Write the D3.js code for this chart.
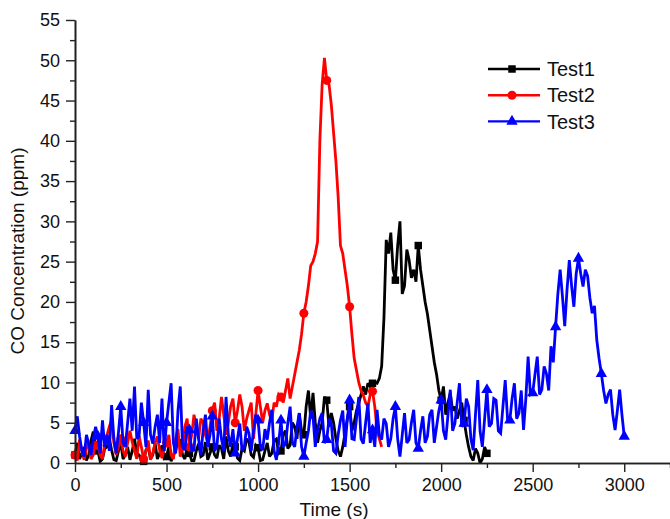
<!DOCTYPE html>
<html>
<head>
<meta charset="utf-8">
<script src="https://cdn.jsdelivr.net/npm/d3@7"></script>
<style>
  body { margin: 0; background: #fff; }
  text { font-family: "Liberation Sans", Arial, sans-serif; }
</style>
</head>
<body>
<div id="chart"></div>
<script>
// sampling step of every series (s), a marker is drawn every 10th sample (125 s)
const stepSec = 12.5;
const markerEvery = 10;

// Test1 : 0 .. 2250 s
const test1 = [1,2.5,0.5,1.2,2,0.3,1,2.8,3.9,2,
  1.5,0.2,0.5,1.8,2,3,1.6,0.4,0.3,1.5,
  2.5,0.5,1,2,0.4,1.5,3,1.2,1,0.3,
  0.2,1.6,2,0.5,1,2.5,0.5,1.2,2.2,0.6,
  0.8,2,0.2,1,1.5,3,2.8,1,0.5,2,
  1.2,0.3,0.3,1.5,2.4,0.8,1,2.6,0.4,1.2,
  2,1,0.6,2.2,1.8,0.5,3.3,1.5,0.8,2.4,
  2,0.6,0.3,1.8,1.5,3,2.6,1,0.7,2.2,
  1.9,0.3,0.4,1.5,2.5,0.8,1.2,2.8,3,1.2,
  1.5,3.5,4,1.8,2.2,5,4.5,3,6.2,4,
  3.5,7,9,5.5,8.7,5,2.5,4,5,8.2,
  7.8,4.5,6.2,5,3,1.5,0.8,2,3.7,5.5,
  7,4,5,6.5,7.4,8.5,9.5,8.5,9.9,9.5,
  9.9,10,9.9,10.5,12,18,27.7,26,28.6,24,
  22.7,27,30,21,22,26.5,25.2,23,24,22.5,
  27,24,22,20,18.5,16.5,14.5,12.5,11,9,
  7.8,9.5,6,7.5,8.7,6.5,7,5.5,6.5,7.5,
  5.3,3.5,2,0.8,0.3,1.8,1.2,0,0.5,2,
  1.2];

// Test2 : 0 .. 1675 s
const test2 = [1,0.3,2.9,1.5,0.4,1.8,2.5,0.5,1,2.7,
  2.2,1,0.5,2.5,3.5,4.5,5.3,2.5,1,2,
  3,1.5,0.8,2.5,4,2.6,1.5,0.5,3.3,2,
  0.5,1.5,2.8,0.4,1.2,2.5,3.3,1.6,0.6,1.8,
  2.5,3.5,1,0.5,3,4.2,0.8,2,4.5,5.5,
  2,3.5,6,4.5,3,5.5,5,3.5,2.5,4.5,
  6.5,7.5,4,5.5,8.2,6,3.5,5,7,8,
  5,6.5,8.5,7,4,5.5,6.5,7.5,3,6,
  9,7,5,6.5,7.4,6,5.3,7.5,7,8.5,
  8.2,7.5,9,10.5,8,9.5,11,12.5,14,16,
  18.6,20,22,24.5,25,26,27.5,40,47,50.3,
  47.5,47,44.5,41,37.5,33,27,26,24,22,
  19.4,16,13,11.5,10,9,8.4,7.5,7,8.5,
  8.9,7,4,3,2];

// Test3 : 0 .. 3000 s
const test3 = [4,5.8,3.3,1.5,0.8,3.5,2.4,1,3,4.5,
  3.3,1.2,5.3,2,3.5,1.5,7.2,3,1.2,3.8,
  7,2.5,2,5,8,4,9.5,3,3.3,7.5,
  5,2,9.1,3.5,2.4,4.5,6,2.5,8,1.5,
  5,7.5,9.9,2.5,1.2,6.5,9.5,2,1.6,4.5,
  4.1,1.5,1.6,5.5,3,1,4.1,6,2,3.5,
  5.8,1.5,2,5.5,3,1.5,8.2,3.5,2,4.2,
  1.2,3,4.9,1.5,2,4.5,3.7,1.5,4,6,
  5.3,2,1.6,4.2,2.9,5,6.6,1.5,0.4,2.5,
  5.3,2,2.4,5,7,2.5,2,4.5,6.2,2,
  0.8,2.5,4,6.5,5.8,2,4.1,5.5,6.2,2.5,
  2.9,5.5,4.9,1.5,1.2,3.5,5.3,6.5,2,5.5,
  7.8,3,2.9,5.5,8.2,3,2.4,5,7.4,2.5,
  4.1,2,6.6,3.5,2.9,5.5,4.9,2,3,5.5,
  7,3,0.8,3.5,6.2,2.5,2.9,5,6.6,2.5,
  1.8,4,5.8,2.5,3.3,6,6.6,2.5,4.5,6.5,
  7.8,4,2.9,6,9.1,4,4.9,7.5,9.9,4.5,
  4.9,8,7,3,1.6,6,10.3,4,2,5.5,
  9.1,4.5,4.9,8,7.8,4,3.7,7,10.3,5.5,
  5.3,8,9.9,5.5,6.2,9,4.1,8,13.2,8.5,
  8.7,11,13.2,8.5,9.1,12,11.1,9,14.5,12.5,
  16.9,21,24,20.7,17,21.5,25.2,22,19.4,23.5,
  25.4,23.5,21.9,24,23.2,20.5,18.6,19.5,15.3,13,
  11.1,9,7.4,8.5,9.1,6,4.1,6.5,9.1,6,
  3.3];

const seriesNames = ["Test1", "Test2", "Test3"];
const seriesColors = ["#000000", "#ff0000", "#0000ff"];

const xTicks = [0, 500, 1000, 1500, 2000, 2500, 3000];
const xMinorTicks = [250, 750, 1250, 1750, 2250, 2750, 3250];
const yTicks = [0, 5, 10, 15, 20, 25, 30, 35, 40, 45, 50, 55];
const yMinorTicks = [2.5, 7.5, 12.5, 17.5, 22.5, 27.5, 32.5, 37.5, 42.5, 47.5, 52.5];

const width = 670, height = 519;

const svg = d3.select("#chart").append("svg")
  .attr("width", width)
  .attr("height", height);

const x = d3.scaleLinear().domain([0, 3250]).range([75, 670]);
const y = d3.scaleLinear().domain([0, 55]).range([463, 20]);

// series, drawn in order so Test3 sits on top
const symbols = [d3.symbolSquare, d3.symbolCircle, d3.symbolTriangle];
const symbolSizes = [56, 64, 56];
const allData = [test1, test2, test3];

const line = d3.line()
  .x(d => x(d.t))
  .y(d => y(d.v));

allData.forEach(function (vals, k) {
  const pts = vals.map((v, i) => ({ t: i * stepSec, v: v }));
  svg.append("path")
    .datum(pts)
    .attr("d", line)
    .attr("fill", "none")
    .attr("stroke", seriesColors[k])
    .attr("stroke-width", 2.8)
    .attr("stroke-linejoin", "miter")
    .attr("stroke-miterlimit", 2.5);

  svg.append("g").selectAll("path")
    .data(pts.filter((d, i) => i % markerEvery === 0))
    .join("path")
    .attr("d", d3.symbol(symbols[k], symbolSizes[k]))
    .attr("transform", d => "translate(" + x(d.t) + "," + y(d.v) + ")")
    .attr("fill", seriesColors[k]);
});

// axes
function styleAxis(g) {
  g.select(".domain").attr("stroke", "#222").attr("stroke-width", 1.6);
  g.selectAll(".tick line").attr("stroke", "#222").attr("stroke-width", 1.4);
  g.selectAll(".tick text").attr("fill", "#111").style("font-size", "18px");
}

svg.append("g")
  .attr("transform", "translate(0,463)")
  .call(d3.axisBottom(x).tickValues(xMinorTicks).tickSize(5).tickSizeOuter(0).tickFormat(""))
  .call(styleAxis);

svg.append("g")
  .attr("transform", "translate(0,463)")
  .call(d3.axisBottom(x).tickValues(xTicks).tickSize(9).tickSizeOuter(0).tickPadding(6).tickFormat(d3.format("d")))
  .call(styleAxis);

svg.append("g")
  .attr("transform", "translate(75,0)")
  .call(d3.axisLeft(y).tickValues(yMinorTicks).tickSize(5).tickSizeOuter(0).tickFormat(""))
  .call(styleAxis);

svg.append("g")
  .attr("transform", "translate(75,0)")
  .call(d3.axisLeft(y).tickValues(yTicks).tickSize(9).tickSizeOuter(0).tickPadding(6).tickFormat(d3.format("d")))
  .call(styleAxis);

// axis titles
svg.append("text")
  .attr("x", 334)
  .attr("y", 516)
  .attr("text-anchor", "middle")
  .style("font-size", "19px")
  .attr("fill", "#111")
  .text("Time (s)");

svg.append("text")
  .attr("transform", "translate(24,251)rotate(-90)")
  .attr("text-anchor", "middle")
  .style("font-size", "19px")
  .attr("fill", "#111")
  .text("CO Concentration (ppm)");

// legend
const legend = svg.append("g");
seriesNames.forEach(function (name, k) {
  const ly = 69 + k * 26.2;
  legend.append("line")
    .attr("x1", 488).attr("x2", 540)
    .attr("y1", ly).attr("y2", ly)
    .attr("stroke", seriesColors[k])
    .attr("stroke-width", 2.4);
  legend.append("path")
    .attr("d", d3.symbol(symbols[k], symbolSizes[k]))
    .attr("transform", "translate(512," + ly + ")")
    .attr("fill", seriesColors[k]);
  legend.append("text")
    .attr("x", 547)
    .attr("y", ly)
    .attr("dy", "0.36em")
    .style("font-size", "20px")
    .attr("fill", "#111")
    .text(name);
});
</script>
</body>
</html>
